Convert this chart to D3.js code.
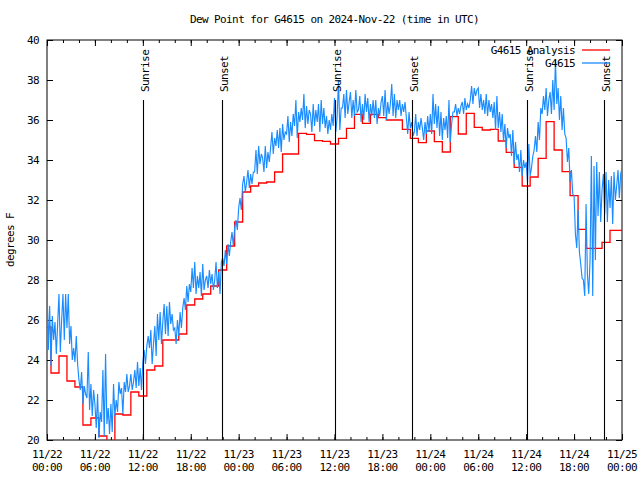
<!DOCTYPE html>
<html><head><meta charset="utf-8">
<script src="https://cdn.jsdelivr.net/npm/d3@7"></script>
<style>
body{margin:0;background:#fff}
svg text{font-family:"DejaVu Sans Mono","Liberation Mono",monospace;font-size:11px;letter-spacing:-0.6px;fill:#000}
</style>
</head><body><svg id="c" width="640" height="480"></svg>
<script>
const title = "Dew Point for G4615 on 2024-Nov-22 (time in UTC)";
const yLabel = "degrees F";
const startTime = "2024-11-22T00:00:00Z";
const endTime = "2024-11-25T00:00:00Z";
const xTickDates = ["11/22","11/22","11/22","11/22","11/23","11/23","11/23","11/23","11/24","11/24","11/24","11/24","11/25"];
const xTickTimes = ["00:00","06:00","12:00","18:00","00:00","06:00","12:00","18:00","00:00","06:00","12:00","18:00","00:00"];
const yTicks = [20,22,24,26,28,30,32,34,36,38,40];
const sunNames = ["Sunrise","Sunset","Sunrise","Sunset","Sunrise","Sunset"];
const sunTimes = ["2024-11-22T12:03Z","2024-11-22T21:52Z","2024-11-23T12:06Z","2024-11-23T21:45Z","2024-11-24T12:09Z","2024-11-24T21:47Z"];
const seriesNames = ["G4615 Analysis","G4615"];
// hourly analysis values, starting 00:00 UTC
const analysisValues = [25.65,23.35,24.2,22.95,22.65,20.75,21.1,20.2,19.5,21.3,21.25,22.4,22.2,23.5,23.7,25.0,25.0,25.3,
 26.75,27.05,27.3,27.7,28.5,29.7,30.9,32.4,32.7,32.85,32.9,33.4,34.3,34.3,35.33,35.28,34.97,34.93,
 34.8,35.08,35.58,36.28,35.83,36.28,36.12,36.0,36.0,35.53,35.08,34.87,35.45,34.92,34.4,36.17,35.3,36.33,
 35.63,35.5,35.53,34.95,34.38,33.63,32.7,33.15,34.08,35.92,34.5,33.42,32.22,30.53,29.58,29.58,29.88,30.48,30.48];
// station observations every 10 minutes, starting 00:00 UTC
const obsValues = [
 27.9,24.5,26.7,23.7,26.2,25.0, 25.9,24.3,25.8,27.3,24.4,26.0, 27.3,25.0,27.3,25.6,27.3,24.8, 25.7,24.0,24.6,23.9,25.2,23.8,
 23.0,22.5,23.4,21.8,22.7,22.3, 22.1,24.4,21.5,22.8,21.2,22.5, 21.8,20.6,22.3,20.1,21.4,20.9, 23.5,20.2,24.3,20.8,21.6,20.3,
 21.8,20.4,22.8,21.2,22.0,21.4, 22.9,22.3,22.6,21.3,22.9,22.4, 23.3,22.4,22.7,23.3,22.5,22.9, 23.5,22.6,23.9,22.7,23.6,22.5,
 23.9,24.5,23.8,24.7,25.2,24.6, 25.5,23.8,24.8,25.7,24.2,26.3, 25.0,26.4,24.8,25.9,26.8,25.3, 26.7,25.2,26.9,25.8,26.3,25.5,
 25.6,24.8,26.0,25.2,26.4,25.6, 26.6,27.1,26.5,27.7,26.9,27.8, 27.4,28.6,27.6,28.9,27.3,28.2, 27.6,28.4,27.2,28.8,27.5,28.0,
 28.2,27.6,28.5,27.8,28.3,27.5, 28.0,28.9,27.6,28.4,27.3,28.9, 29.1,28.7,29.5,28.8,29.8,29.2, 29.9,30.4,29.7,30.6,31.0,30.5,
 31.6,32.1,31.5,32.8,33.2,32.4, 32.9,33.5,32.6,33.3,32.8,33.4, 33.4,34.5,33.3,34.7,33.8,34.3, 34.1,33.4,34.7,33.6,34.4,33.9,
 34.6,35.4,34.3,35.1,34.7,35.5, 34.6,35.6,34.4,35.8,35.0,35.4, 35.3,36.2,34.9,35.9,35.2,36.3, 35.7,37.0,35.1,36.4,35.9,36.6,
 36.0,37.3,35.6,36.7,35.8,36.5, 36.3,35.4,36.8,35.7,36.5,35.9, 36.8,35.4,37.0,35.8,36.6,35.6, 36.2,35.3,36.0,35.5,36.3,35.7,
 37.1,35.4,36.2,38.0,35.5,36.6, 36.6,37.3,36.1,37.5,36.3,36.9, 37.4,36.1,37.0,36.2,37.5,36.4, 36.5,37.2,35.9,36.8,36.0,37.3,
 36.4,37.1,35.9,36.8,36.2,37.0, 36.1,37.0,35.8,36.6,36.2,36.9, 37.2,36.2,37.5,36.0,36.9,36.3, 36.8,37.8,36.2,37.3,36.1,37.0,
 36.5,37.0,36.2,36.8,36.4,36.9, 36.1,35.3,36.4,35.6,35.9,35.2, 35.4,36.3,35.2,35.9,35.5,36.1, 35.6,35.0,35.9,35.3,36.2,35.4,
 36.3,35.3,37.3,35.8,36.8,35.6, 36.7,35.2,36.4,35.0,36.1,35.5, 36.2,35.1,37.0,34.9,35.8,36.4, 36.4,36.8,36.2,36.6,36.3,36.7,
 36.9,36.3,37.1,36.5,36.8,36.6, 37.0,37.7,36.8,37.6,37.2,37.5, 37.6,36.6,37.3,36.5,37.0,36.3, 37.3,36.2,37.0,36.4,36.8,36.1,
 36.9,35.5,37.2,35.6,36.4,35.4, 36.3,34.9,35.8,34.6,35.6,35.1, 35.3,34.2,35.5,33.8,34.9,34.0, 34.3,33.4,34.5,33.2,34.0,33.6,
 33.9,32.9,34.8,33.2,33.6,34.2, 34.5,35.2,34.4,35.9,35.0,36.6, 36.3,37.2,36.5,37.6,36.2,37.0, 37.4,36.3,38.0,36.5,39.0,36.8,
 37.6,36.0,37.2,35.5,36.6,35.3, 35.1,33.9,34.6,32.9,33.5,32.3, 32.2,30.3,29.6,31.5,29.4,28.8, 28.1,28.0,27.2,31.8,28.3,27.3,
 29.0,34.2,27.2,33.7,29.0,33.9, 31.2,33.4,30.9,32.5,33.3,31.3, 33.4,30.9,33.0,31.6,33.2,30.8, 33.4,32.0,32.7,33.5,32.1,33.3,
 33.6];

const M = {left: 47, right: 622, top: 40, bottom: 440};
const svg = d3.select("#c");
const t0 = new Date(startTime), t1 = new Date(endTime);
const x = d3.scaleUtc().domain([t0, t1]).range([M.left, M.right]);
const y = d3.scaleLinear().domain([20, 40]).range([M.bottom, M.top]);

svg.append("defs").append("clipPath").attr("id","clip")
  .append("rect").attr("x",M.left).attr("y",M.top).attr("width",M.right-M.left).attr("height",M.bottom-M.top);

svg.append("text").attr("x",(M.left+M.right)/2).attr("y",23).attr("text-anchor","middle").text(title);
svg.append("text").attr("transform",`translate(14,${(M.top+M.bottom)/2}) rotate(-90)`).attr("text-anchor","middle").text(yLabel);

function styleAxis(g){
  g.select(".domain").remove();
  g.selectAll(".tick line").attr("stroke","#000").attr("stroke-width",1);
  g.attr("font-family",null).attr("font-size",null);
}
const majorTicks = d3.utcHour.every(6).range(t0, new Date(+t1+1));
const minorTicks = d3.utcHour.every(2).range(t0, new Date(+t1+1));
svg.append("g").attr("transform",`translate(0,${M.bottom})`)
  .call(d3.axisBottom(x).tickValues(minorTicks).tickSize(-3).tickFormat("")).call(styleAxis);
svg.append("g").attr("transform",`translate(0,${M.bottom})`)
  .call(d3.axisBottom(x).tickValues(majorTicks).tickSize(-6).tickFormat("")).call(styleAxis);
svg.append("g").attr("transform",`translate(0,${M.top})`)
  .call(d3.axisTop(x).tickValues(minorTicks).tickSize(-3).tickFormat("")).call(styleAxis);
svg.append("g").attr("transform",`translate(0,${M.top})`)
  .call(d3.axisTop(x).tickValues(majorTicks).tickSize(-6).tickFormat("")).call(styleAxis);
const xl = svg.append("g");
majorTicks.forEach((d,i)=>{
  const tx = xl.append("text").attr("x",x(d)).attr("text-anchor","middle");
  tx.append("tspan").attr("x",x(d)).attr("y",458).text(xTickDates[i]);
  tx.append("tspan").attr("x",x(d)).attr("y",471).text(xTickTimes[i]);
});
svg.append("g").attr("transform",`translate(${M.left},0)`)
  .call(d3.axisLeft(y).tickValues(yTicks).tickSize(-6).tickPadding(8).tickFormat(d3.format("d"))).call(styleAxis)
  .selectAll("text").attr("dy","0.35em");
svg.append("g").attr("transform",`translate(${M.right},0)`)
  .call(d3.axisRight(y).tickValues(yTicks).tickSize(-6).tickFormat("")).call(styleAxis);

svg.append("rect").attr("x",M.left).attr("y",M.top).attr("width",M.right-M.left).attr("height",M.bottom-M.top)
  .attr("fill","none").attr("stroke","#000").attr("stroke-width",1);

const plot = svg.append("g").attr("clip-path","url(#clip)");
const analysisData = analysisValues.map((v,i)=>({t: d3.utcHour.offset(t0, i), v}));
const obsData = obsValues.map((v,i)=>({t: d3.utcMinute.offset(t0, i*10), v}));

plot.append("path").datum(analysisData)
  .attr("d", d3.line().curve(d3.curveStep).x(d=>x(d.t)).y(d=>y(d.v)))
  .attr("fill","none").attr("stroke","#ff0000").attr("stroke-width",1.3);
plot.append("path").datum(obsData)
  .attr("d", d3.line().x(d=>x(d.t)).y(d=>y(d.v)))
  .attr("fill","none").attr("stroke","#1a8cff").attr("stroke-width",1.15);

sunTimes.forEach((s,i)=>{
  const sx = Math.round(x(new Date(s)))+0.5;
  svg.append("line").attr("x1",sx).attr("x2",sx).attr("y1",y(37)).attr("y2",y(20))
    .attr("stroke","#000").attr("stroke-width",1.1);
  svg.append("text").attr("transform",`translate(${sx+5},${y(37.4)}) rotate(-90)`).text(sunNames[i]);
});

const legendColors = ["#ff0000","#1a8cff"];
seriesNames.forEach((n,i)=>{
  const ly = 50 + i*13;
  svg.append("text").attr("x",575).attr("y",ly).attr("dy","0.35em").attr("text-anchor","end").text(n);
  svg.append("line").attr("x1",582).attr("x2",610).attr("y1",ly).attr("y2",ly)
    .attr("stroke",legendColors[i]).attr("stroke-width",1.3);
});
</script>
</body></html>
